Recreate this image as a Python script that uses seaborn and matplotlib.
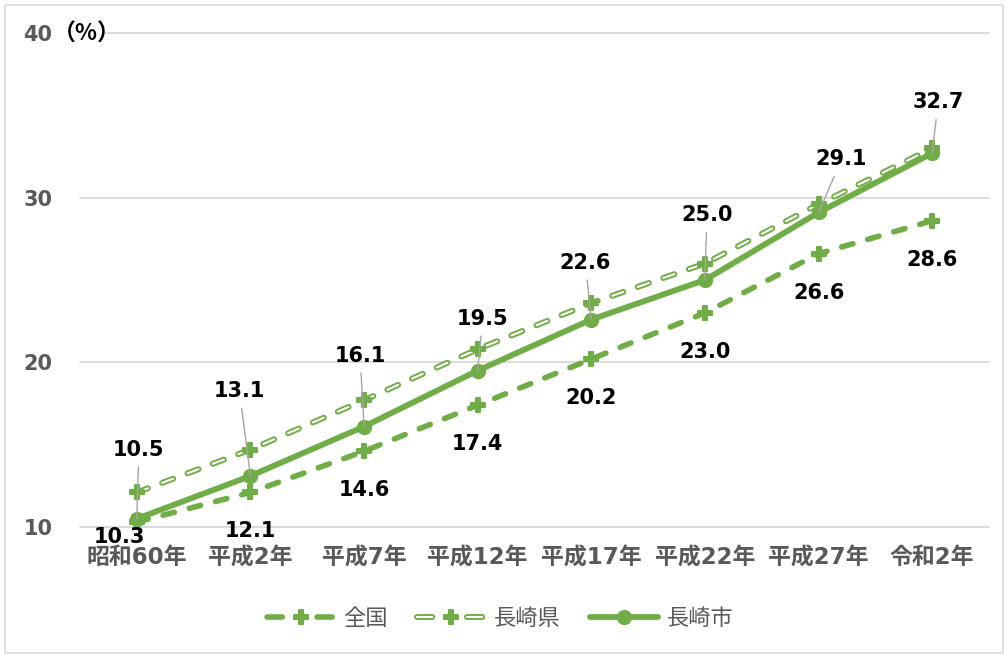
import numpy as np
import matplotlib
matplotlib.use('Agg')
import matplotlib.pyplot as plt
import seaborn as sns
from matplotlib.lines import Line2D
from matplotlib.markers import MarkerStyle
from matplotlib.legend_handler import HandlerTuple
from matplotlib.patches import Rectangle

# ---- data ----
categories = ['昭和60年', '平成2年', '平成7年', '平成12年', '平成17年', '平成22年', '平成27年', '令和2年']
zenkoku = [10.3, 12.1, 14.6, 17.4, 20.2, 23.0, 26.6, 28.6]
nagasaki_ken = [12.1, 14.7, 17.7, 20.8, 23.6, 26.0, 29.6, 33.0]
nagasaki_shi = [10.5, 13.1, 16.1, 19.5, 22.6, 25.0, 29.1, 32.7]
series_names = ['全国', '長崎県', '長崎市']
yticks = [10, 20, 30, 40]

# ---- layout (label offsets in pixels) ----
shi_offsets = [(2, 69), (-11, 85), (-4, 71), (5, 52), (-6, 57), (2, 65), (23, 53), (6, 51)]
zen_offsets = [(-17, -15)] + [(0, -39)] * 7

sns.set_theme(style='white')
plt.rcParams['font.family'] = ['DejaVu Sans', 'Noto Sans CJK JP']
plt.rcParams['lines.scale_dashes'] = False

GREEN = '#70AD47'
GRAY_TXT = '#595959'
GRID = '#D9D9D9'
LEADER = '#A6A6A6'
DASH = (0, (8.5, 11))
PLUS = MarkerStyle('P', joinstyle='round')

fig = plt.figure(figsize=(10.08, 6.57), dpi=100)
ax = fig.add_axes([80 / 1008, 130 / 657, 909 / 1008, 494 / 657])
x = np.arange(len(categories))

# gridlines (top one starts after the unit label)
for yv in yticks:
    start = (105 - 80) / 909 if yv == yticks[-1] else 0
    ax.axhline(yv, xmin=start, color=GRID, lw=1.3, zorder=0, clip_on=False)

# 全国
sns.lineplot(x=x, y=zenkoku, ax=ax, color=GREEN, lw=4.0, linestyle=DASH,
             dash_capstyle='round', marker=PLUS, ms=10, markeredgecolor=GREEN,
             markeredgewidth=1.5, clip_on=False, zorder=3)
# 長崎県 (hollow dashed)
sns.lineplot(x=x, y=nagasaki_ken, ax=ax, color=GREEN, lw=4.3, linestyle=DASH,
             dash_capstyle='round', clip_on=False, zorder=3)
sns.lineplot(x=x, y=nagasaki_ken, ax=ax, color='white', lw=1.5, linestyle=DASH,
             dash_capstyle='round', clip_on=False, zorder=3.1)
sns.lineplot(x=x, y=nagasaki_ken, ax=ax, color=GREEN, linestyle='', marker=PLUS, ms=10,
             markeredgecolor=GREEN, markeredgewidth=1.5, clip_on=False, zorder=3.2)
# 長崎市
sns.lineplot(x=x, y=nagasaki_shi, ax=ax, color=GREEN, lw=4.2, marker='o', ms=10,
             markeredgecolor=GREEN, markeredgewidth=1, clip_on=False, zorder=4)

# data labels
for i, v in enumerate(nagasaki_shi):
    ax.annotate(f'{v:.1f}', xy=(i, v), xytext=shi_offsets[i], textcoords='offset pixels',
                ha='center', va='center', fontsize=15, fontweight='bold', color='black',
                family='DejaVu Sans',
                arrowprops=dict(arrowstyle='-', color=LEADER, lw=1.0, shrinkA=3, shrinkB=0),
                annotation_clip=False, zorder=5)
for i, v in enumerate(zenkoku):
    ax.annotate(f'{v:.1f}', xy=(i, v), xytext=zen_offsets[i], textcoords='offset pixels',
                ha='center', va='center', fontsize=15, fontweight='bold', color='black',
                family='DejaVu Sans', annotation_clip=False, zorder=5)

# axes styling
ax.set_xlim(-0.5, len(categories) - 0.5)
ax.set_ylim(10, 40)
ax.set_yticks(yticks)
ax.set_xticks(x)
ax.set_xticklabels(categories)
ax.grid(False)
for s in ax.spines.values():
    s.set_visible(False)
ax.tick_params(axis='x', length=0, pad=14, labelsize=16.5, labelcolor=GRAY_TXT)
ax.tick_params(axis='y', length=0, pad=20, labelsize=15, labelcolor=GRAY_TXT)
for t in ax.get_xticklabels() + ax.get_yticklabels():
    t.set_fontweight('bold')
ax.set_xlabel('')
ax.set_ylabel('')

fig.text(53 / 1008, (657 - 34) / 657, '（%）', family=['Noto Sans CJK JP'], fontweight='bold',
         fontsize=16.5, color='black', ha='left', va='center')

# legend
LEG_DASH = (0, (11, 25))
h1 = Line2D([], [], color=GREEN, lw=4.0, ls=LEG_DASH, dash_capstyle='round',
            marker=PLUS, ms=10, markeredgewidth=1.5, markeredgecolor=GREEN)
h2a = Line2D([], [], color=GREEN, lw=4.3, ls=LEG_DASH, dash_capstyle='round')
h2b = Line2D([], [], color='white', lw=1.5, ls=LEG_DASH, dash_capstyle='round')
h2c = Line2D([], [], color=GREEN, ls='', marker=PLUS, ms=10, markeredgewidth=1.5,
             markeredgecolor=GREEN)
h3 = Line2D([], [], color=GREEN, lw=4.2, marker='o', ms=10, markeredgecolor=GREEN)
leg = fig.legend(handles=[h1, (h2a, h2b, h2c), h3], labels=series_names,
                 handler_map={tuple: HandlerTuple(ndivide=1, pad=0)},
                 loc='center', bbox_to_anchor=(0.496, 0.059), ncol=3, frameon=False,
                 fontsize=16, handlelength=3.06, handletextpad=0.4, columnspacing=1.3)
for t in leg.get_texts():
    t.set_color(GRAY_TXT)

fig.patches.append(Rectangle((4.5 / 1008, 4.5 / 657), 998 / 1008, 648 / 657,
                             transform=fig.transFigure, fill=False, ec=GRID, lw=1.2))

fig.savefig('out.png', dpi=100)
